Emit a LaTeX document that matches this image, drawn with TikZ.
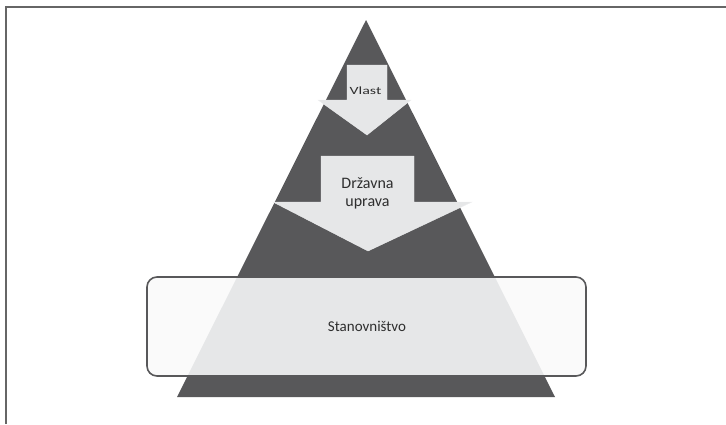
\documentclass[tikz,border=0pt]{standalone}
\usepackage{fontspec}
\setmainfont{Carlito}
\definecolor{pyramid}{HTML}{58585A}
\definecolor{pale}{HTML}{E6E7E8}
\definecolor{ink}{HTML}{2E2E2E}
\tikzset{
  label text/.style={text=ink, inner sep=0pt, anchor=base},
  down arrow/.style={fill=pale, draw=pale!70!white, line width=0.4pt},
}
\begin{document}
\begin{tikzpicture}[x=1pt, y=-1pt]
  \useasboundingbox (0,0) rectangle (726,424);
  % frame
  \draw[line width=1.6pt, draw=black!60] (6,424) -- (6,7) -- (726,7);
  % pyramid
  \coordinate (apex) at (366,20);
  \coordinate (baseL) at (177,397);
  \coordinate (baseR) at (555,397);
  \fill[pyramid] (apex) -- (baseR) -- (baseL) -- cycle;
  % population band
  \fill[white!98!black, rounded corners=10pt] (147,277) rectangle (586,376);
  \begin{scope}
    \clip (apex) -- (baseR) -- (baseL) -- cycle;
    \fill[pale] (147,277) rectangle (586,376);
  \end{scope}
  \draw[pyramid, line width=1.6pt, rounded corners=10pt] (147,277) rectangle (586,376);
  \node[label text, font=\fontsize{15}{18}\selectfont] (pop) at (367,331.5) {Stanovništvo};
  % power arrow
  \draw[down arrow] (347,65) -- (387,65) -- (387,100) -- (411,100) -- (367,135)
        -- (318,100) -- (347,100) -- cycle;
  \node[label text, font=\fontsize{11}{13}\selectfont, xscale=1.45] (vlast) at (365.5,94.3) {Vlast};
  % administration arrow
  \draw[down arrow] (321,156) -- (414,156) -- (414,202) -- (472,202) -- (368,251)
        -- (273,202) -- (321,202) -- cycle;
  \node[label text, font=\fontsize{16}{18}\selectfont] (drz) at (367.5,188.3) {Državna};
  \node[label text, font=\fontsize{16}{18}\selectfont] (upr) at (367.5,206.5) {uprava};
\end{tikzpicture}
\end{document}
